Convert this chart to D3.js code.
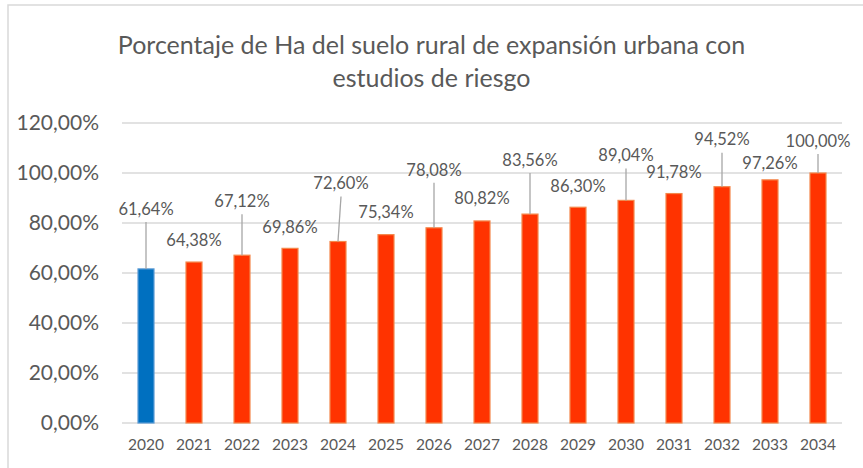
<!DOCTYPE html>
<html>
<head>
<meta charset="utf-8">
<script src="https://cdn.jsdelivr.net/npm/d3@7"></script>
<style>
  body { margin:0; background:#fff; }
  text { font-family: Lato, "Open Sans", sans-serif; fill:#595959; }
</style>
</head>
<body>
<div id="chart"></div>
<script>
const years = ["2020","2021","2022","2023","2024","2025","2026","2027","2028","2029","2030","2031","2032","2033","2034"]
const values = [61.64,64.38,67.12,69.86,72.60,75.34,78.08,80.82,83.56,86.30,89.04,91.78,94.52,97.26,100.00]
const yTicks = [0,20,40,60,80,100,120]
const titleLines = ["Porcentaje de Ha del suelo rural de expansión urbana con","estudios de riesgo"]
// how far each label sits above its bar (px) and whether it gets a leader line
const labelLift = [60,22,54,21,58,22,58,23,54,21,45,21,47,17,32]
const labelShift = [0,0,0,0,3,0,0,0,0,0,0,0,0,0,0]
const leader = [1,0,1,0,1,0,1,0,1,0,1,0,1,0,1]

const fmt = v => v.toFixed(2).replace(".", ",") + "%"

const W = 863, H = 468
const margin = {top:123, right:21, bottom:45, left:122}
const width = W - margin.left - margin.right,
      height = H - margin.top - margin.bottom

const svg = d3.select("#chart")
  .append("svg")
    .attr("width", W)
    .attr("height", H)

svg.append("rect")
  .attr("x", 8).attr("y", 5)
  .attr("width", 900).attr("height", 500)
  .attr("fill", "none")
  .attr("stroke", "#d9d9d9")
  .attr("stroke-width", 1.5)

svg.selectAll(".title")
  .data(titleLines)
  .enter()
  .append("text")
    .attr("x", W / 2)
    .attr("y", (d, i) => 54 + i * 33)
    .attr("text-anchor", "middle")
    .style("font-size", "25px")
    .text(d => d)

const g = svg.append("g")
  .attr("transform", "translate(" + margin.left + "," + margin.top + ")")

const x = d3.scaleBand().domain(years).range([0, width]).paddingInner(2/3).paddingOuter(1/3)
const y = d3.scaleLinear().domain([0, 120]).range([height, 0])

//grid
g.selectAll(".grid")
  .data(yTicks)
  .enter()
  .append("line")
    .attr("x1", 0)
    .attr("x2", width)
    .attr("y1", d => y(d))
    .attr("y2", d => y(d))
    .style("stroke", "#d9d9d9")
    .style("stroke-width", 1.5)

//y axis
const gY = g.append("g")
  .call(d3.axisLeft(y).tickValues(yTicks).tickSize(0).tickPadding(23).tickFormat(fmt))
gY.select(".domain").remove()
gY.selectAll("text").style("font-size", "21px").style("fill", "#595959")

//x axis
const gX = g.append("g")
  .attr("transform", "translate(0," + height + ")")
  .call(d3.axisBottom(x).tickSize(0).tickPadding(16))
gX.select(".domain").remove()
gX.selectAll("text").style("font-size", "15.5px").style("fill", "#595959")

//bars
g.selectAll(".bar")
  .data(values)
  .enter()
  .append("rect")
    .attr("x", (d, i) => x(years[i]))
    .attr("y", d => y(d))
    .attr("width", x.bandwidth())
    .attr("height", d => height - y(d))
    .style("fill", (d, i) => i == 0 ? "#0070c0" : "#ff3300")
    .style("stroke", (d, i) => i == 0 ? "#5b9bd5" : "#f4874b")
    .style("stroke-width", 1.2)

const cx = i => x(years[i]) + x.bandwidth() / 2

//leader lines
g.selectAll(".leader")
  .data(values)
  .enter()
  .filter((d, i) => leader[i])
  .append("line")
    .attr("x1", d => cx(values.indexOf(d)))
    .attr("y1", d => y(d))
    .attr("x2", d => cx(values.indexOf(d)) + labelShift[values.indexOf(d)])
    .attr("y2", d => y(d) - labelLift[values.indexOf(d)] + 13)
    .style("stroke", "#a6a6a6")
    .style("stroke-width", 1.3)

//labels
g.selectAll(".label")
  .data(values)
  .enter()
  .append("text")
    .attr("x", (d, i) => cx(i) + labelShift[i])
    .attr("y", (d, i) => y(d) - labelLift[i])
    .attr("dy", "0.35em")
    .attr("text-anchor", "middle")
    .style("font-size", "16.5px")
    .text(fmt)
</script>
</body>
</html>
